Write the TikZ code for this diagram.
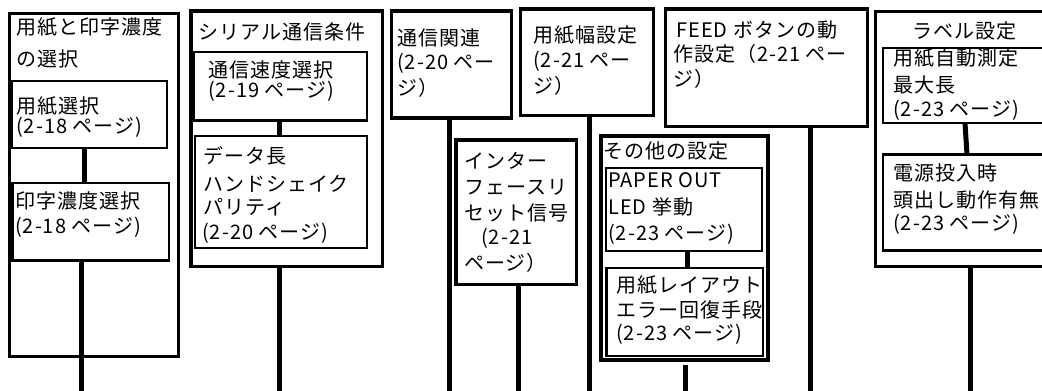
\documentclass[tikz,border=0pt]{standalone}
\usepackage{fontspec}
\newfontfamily\jp[LetterSpace=5]{Noto Sans CJK JP}
\begin{document}
\begin{tikzpicture}[x=1pt,y=-1pt,
  outer/.style={draw, line width=3.2pt, anchor=north west, inner sep=0pt, outer sep=0pt},
  inner/.style={draw, line width=2.2pt, anchor=north west, inner sep=0pt, outer sep=0pt},
  conn/.style={line width=5pt},
  txt/.style={anchor=base west, inner sep=0pt, font=\jp\fontsize{20}{20}\selectfont}]
\useasboundingbox (0,0) rectangle (1042,391);
\clip (0,0) rectangle (1042,391);
% ---------- boxes ----------
\node[outer, minimum width=169pt, minimum height=343pt] (o1) at (9.5,13.5) {};
\node[inner, minimum width=155pt, minimum height=67pt] (i1a) at (12,81) {};
\node[inner, minimum width=156.5pt, minimum height=77.5pt] (i1b) at (12.5,183) {};
\node[outer, minimum width=191.5pt, minimum height=255.5pt] (o2) at (191,11) {};
\node[inner, minimum width=173pt, minimum height=68.5pt] (i2a) at (194,52) {};
\node[inner, minimum width=172pt, minimum height=112pt] (i2b) at (195,136) {};
\node[outer, minimum width=120pt, minimum height=107pt] (o3) at (391.5,11) {};
\node[outer, minimum width=120.5pt, minimum height=144.5pt] (o4) at (456,140) {};
\node[outer, minimum width=133pt, minimum height=106.5pt] (o5) at (520.5,9) {};
\node[outer, minimum width=202pt, minimum height=117.5pt] (o6) at (665.5,9) {};
\node[outer, minimum width=167pt, minimum height=224pt] (o7) at (601,136) {};
\node[inner, minimum width=156pt, minimum height=83pt] (i7a) at (606,168) {};
\node[inner, minimum width=156.5pt, minimum height=88pt] (i7b) at (606.5,268) {};
\node[outer, minimum width=184.5pt, minimum height=255pt] (o8) at (875.5,11.5) {};
\node[inner, minimum width=172pt, minimum height=75pt] (i8a) at (883,48) {};
\node[inner, minimum width=172pt, minimum height=96pt] (i8b) at (883,154.5) {};
% ---------- connector coordinates ----------
\coordinate (m1) at (84.5,0);
\coordinate (e1) at (81,391);
\coordinate (m2) at (279.5,0);
\coordinate (e2) at (279,391);
\coordinate (e3) at (449.5,391);
\coordinate (e4) at (518,391);
\coordinate (e5) at (589,391);
\coordinate (e6) at (810.5,391);
\coordinate (m7) at (687,0);
\coordinate (s7) at (685.5,365);
\coordinate (e7) at (685.5,391);
\coordinate (m8a) at (965,0);
\coordinate (m8b) at (967,0);
\coordinate (e8) at (970.5,391);
% ---------- connectors ----------
\draw[conn] (i1a.south -| m1) -- (i1b.north -| m1);
\draw[conn] (i1b.south -| e1) -- (e1);
\draw[conn] (i2a.south -| m2) -- (i2b.north -| m2);
\draw[conn] (o2.south -| e2) -- (e2);
\draw[conn] (o3.south -| e3) -- (e3);
\draw[conn] (o4.south -| e4) -- (e4);
\draw[conn] (o5.south -| e5) -- (e5);
\draw[conn] (o6.south -| e6) -- (e6);
\draw[conn] (i7a.south -| m7) -- (i7b.north -| m7);
\draw[conn] (s7) -- (e7);
\draw[conn] (i8a.south -| m8a) -- (i8b.north -| m8b);
\draw[conn] (o8.south -| e8) -- (e8);
% ---------- texts ----------
\node[txt] (t1a) at (16,34) {用紙と印字濃度};
\node[txt] (t1b) at (16,66) {の選択};
\node[txt] (t1c) at (16,113) {用紙選択};
\node[txt] (t1d) at (16,133) {(2-18 ページ)};
\node[txt] (t1e) at (15,208) {印字濃度選択};
\node[txt] (t1f) at (15,233) {(2-18 ページ)};
\node[txt] (t2a) at (198,39) {シリアル通信条件};
\node[txt] (t2b) at (208,77) {通信速度選択};
\node[txt] (t2c) at (208,97) {(2-19 ページ)};
\node[txt] (t2d) at (203,163) {データ長};
\node[txt] (t2e) at (203,191) {ハンドシェイク};
\node[txt] (t2f) at (203,214) {パリティ};
\node[txt] (t2g) at (202,239) {(2-20 ページ)};
\node[txt] (t3a) at (397,45) {通信関連};
\node[txt] (t3b) at (397,69) {(2-20 ペー};
\node[txt] (t3c) at (397,95) {ジ）};
\node[txt] (t4a) at (464,168) {インター};
\node[txt] (t4b) at (464,194) {フェースリ};
\node[txt] (t4c) at (464,220) {セット信号};
\node[txt] (t4d) at (481,244) {(2-21};
\node[txt] (t4e) at (464,270) {ページ）};
\node[txt] (t5a) at (533,42) {用紙幅設定};
\node[txt] (t5b) at (533,67) {(2-21 ペー};
\node[txt] (t5c) at (533,93) {ジ）};
\node[txt] (t6a) at (676,37) {FEED ボタンの動};
\node[txt] (t6b) at (673,61) {作設定（2-21 ペー};
\node[txt] (t6c) at (673,86) {ジ）};
\node[txt] (t7a) at (603,158) {その他の設定};
\node[txt] (t7b) at (608,187) {PAPER OUT};
\node[txt] (t7c) at (608,214) {LED 挙動};
\node[txt] (t7d) at (608,240) {(2-23 ページ)};
\node[txt] (t7e) at (616,292) {用紙レイアウト};
\node[txt] (t7f) at (616,317) {エラー回復手段};
\node[txt] (t7g) at (616,340) {(2-23 ページ)};
\node[txt] (t8a) at (912,38) {ラベル設定};
\node[txt] (t8b) at (893,65) {用紙自動測定};
\node[txt] (t8c) at (893,92) {最大長};
\node[txt] (t8d) at (893,116) {(2-23 ページ)};
\node[txt] (t8e) at (893,180) {電源投入時};
\node[txt] (t8f) at (893,207) {頭出し動作有無};
\node[txt] (t8g) at (893,230) {(2-23 ページ)};
\end{tikzpicture}
\end{document}
